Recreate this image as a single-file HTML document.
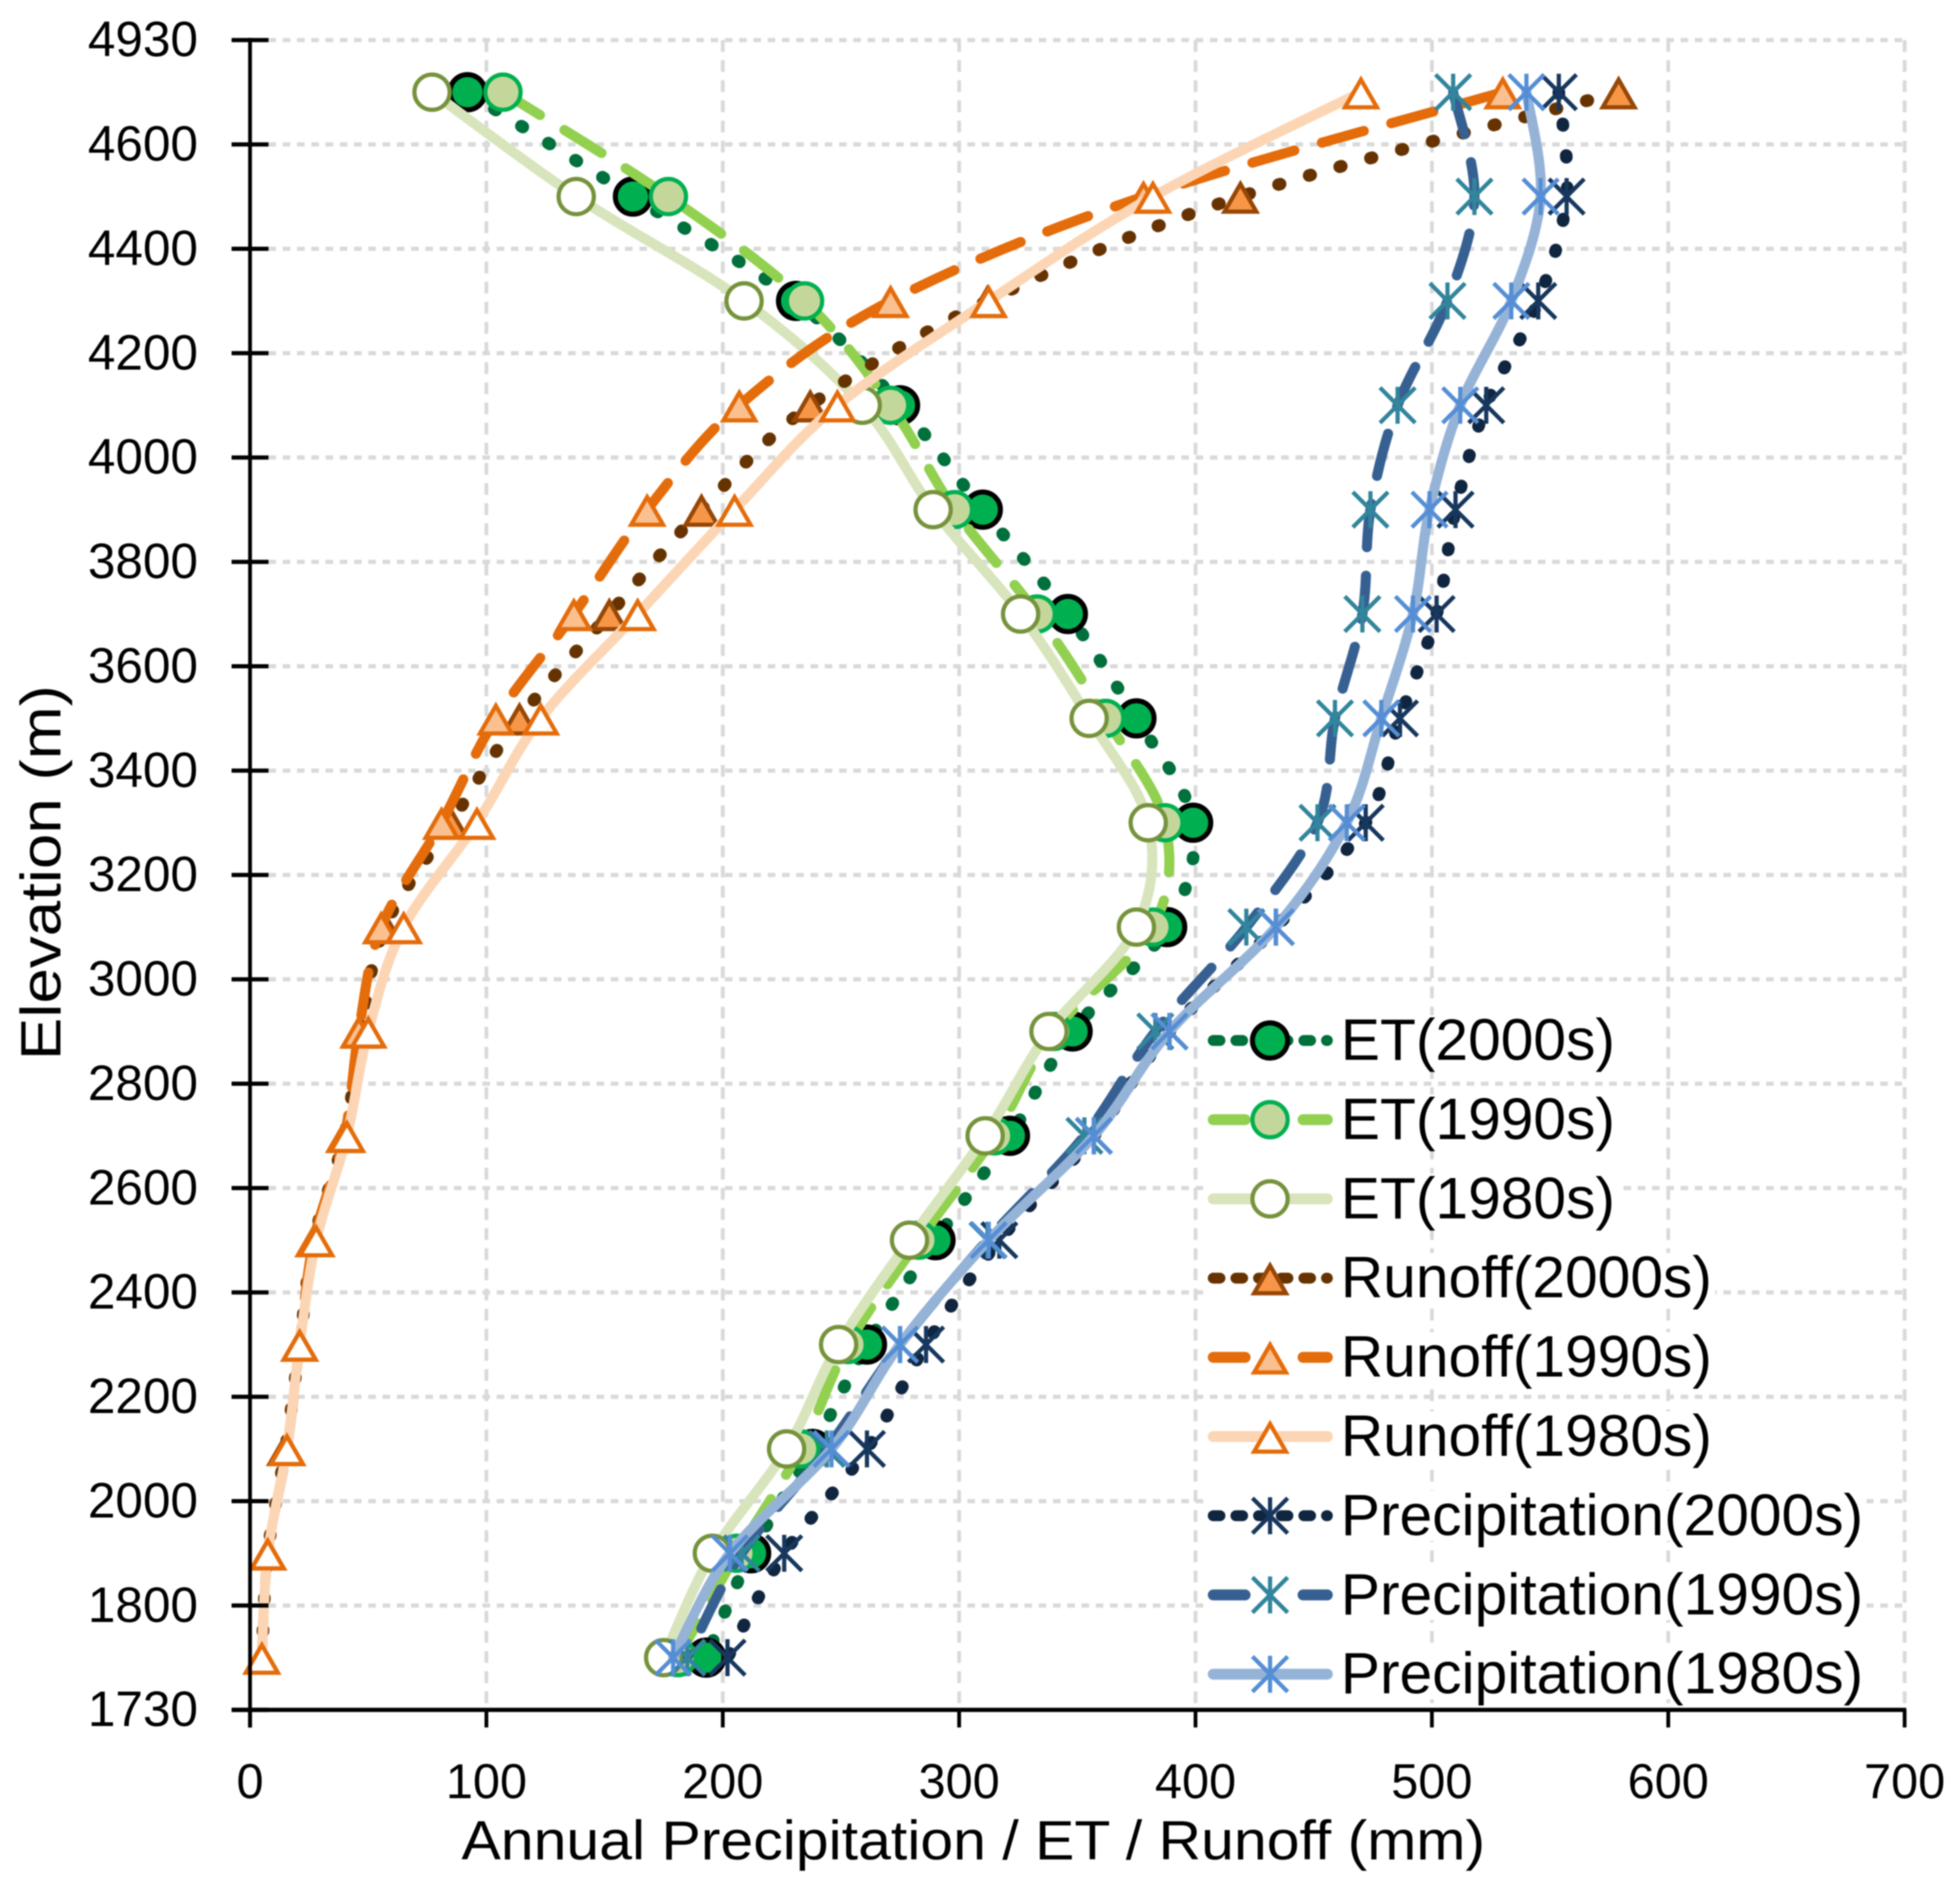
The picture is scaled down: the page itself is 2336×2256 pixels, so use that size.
<!DOCTYPE html>
<html lang="en">
<head>
<meta charset="utf-8">
<title>Annual Precipitation / ET / Runoff by Elevation</title>
<style>
  html, body { margin: 0; padding: 0; background: #ffffff; }
  svg { display: block; font-family: "Liberation Sans", Arial, sans-serif; filter: blur(0.7px); }
</style>
</head>
<body>
<svg id="chart" xmlns="http://www.w3.org/2000/svg" width="2336" height="2256" viewBox="0 0 2336 2256"></svg>
<script>
// ---- Chart data ----
const yTickLabels = ["4930","4600","4400","4200","4000","3800","3600","3400","3200","3000","2800","2600","2400","2200","2000","1800","1730"];
const xTickLabels = [0,100,200,300,400,500,600,700];
const et2000 = [92,162,231,275,310,346,375,399,388,348,321.5,290,261,238,212,193];
const et1990 = [107,177,234.6,271,298,333,362,387,382,340,315,283,253,233,206,181];
const et1980 = [77,138,209,259,289,326,355,380,375,338,311,279,249,227,195.6,175];
const runoff2000 = [579,419,312,237,191,152,114,85,57,47,40,27,21,15,7.5,5];
const runoff1990 = [530,378,271,207,168,137,104,81,55.5,46,40,27,21,15.6,7.5,5];
const runoff1980 = [470,382,312.5,248.5,205,164,123,96,65,50,41,28,21,15.6,7.5,5];
const precip2000 = [553.7,557,545,523,510,502,486.5,472,434,389,357,317,286,261,226,202];
const precip1990 = [509,518,506.6,485.5,474,470.6,459,451.6,421.5,383,353,312,275,244,208,185];
const precip1980 = [540,546,533.6,512,499,492,478.6,464,434,389,357,312.5,275,246,203,179];

// ---- Series appearance ----
const seriesList = [
  {label:"ET(2000s)", slug:"et-2000s", values:et2000, line:"#00703c", width:15, dash:"2 36", legendDash:"8 19", marker:"circle", fill:"#00B050", stroke:"#000000", sw:6},
  {label:"ET(1990s)", slug:"et-1990s", values:et1990, line:"#92D050", width:12, dash:"52 34", legendDash:"38 69", marker:"circle", fill:"#C4D79B", stroke:"#00B050", sw:5},
  {label:"ET(1980s)", slug:"et-1980s", values:et1980, line:"#D8E4BC", width:12, dash:"", legendDash:"", marker:"circle", fill:"#ffffff", stroke:"#76933C", sw:5},
  {label:"Runoff(2000s)", slug:"runoff-2000s", values:runoff2000, line:"#663300", width:15, dash:"2 36", legendDash:"8 19", marker:"triangle", fill:"#F79646", stroke:"#974706", sw:5},
  {label:"Runoff(1990s)", slug:"runoff-1990s", values:runoff1990, line:"#E46C0A", width:12, dash:"52 34", legendDash:"38 69", marker:"triangle", fill:"#FAC08F", stroke:"#E46C0A", sw:5},
  {label:"Runoff(1980s)", slug:"runoff-1980s", values:runoff1980, line:"#FCD5B5", width:12, dash:"", legendDash:"", marker:"triangle", fill:"#ffffff", stroke:"#E46C0A", sw:5},
  {label:"Precipitation(2000s)", slug:"precipitation-2000s", values:precip2000, line:"#10253F", width:15, dash:"2 36", legendDash:"8 19", marker:"star", fill:"none", stroke:"#17375E", sw:5},
  {label:"Precipitation(1990s)", slug:"precipitation-1990s", values:precip1990, line:"#376092", width:12, dash:"52 34", legendDash:"38 69", marker:"star", fill:"none", stroke:"#31859C", sw:5},
  {label:"Precipitation(1980s)", slug:"precipitation-1980s", values:precip1980, line:"#95B3D7", width:12, dash:"", legendDash:"", marker:"star", fill:"none", stroke:"#558ED5", sw:5}
];

// ---- Axis functions ----
const plot = {left:298, right:2270, top:47.7, bottom:2037.7};
const xMax = 700;
function xScale(v) { return plot.left + (v / xMax) * (plot.right - plot.left); }
function yTick(i) { return plot.top + i * (plot.bottom - plot.top) / (yTickLabels.length - 1); }
function yBand(i) { return yTick(i + 0.5); }

const NS = "http://www.w3.org/2000/svg";
const svg = document.getElementById("chart");
function mk(tag, attrs, parent) {
  const el = document.createElementNS(NS, tag);
  for (const k in attrs) el.setAttribute(k, attrs[k]);
  (parent || svg).appendChild(el);
  return el;
}
function smoothPath(pts) {
  let d = "M" + pts[0][0].toFixed(2) + " " + pts[0][1].toFixed(2);
  for (let i = 0; i < pts.length - 1; i++) {
    const p0 = pts[Math.max(i - 1, 0)], p1 = pts[i], p2 = pts[i + 1], p3 = pts[Math.min(i + 2, pts.length - 1)];
    const c1x = p1[0] + (p2[0] - p0[0]) / 6, c1y = p1[1] + (p2[1] - p0[1]) / 6;
    const c2x = p2[0] - (p3[0] - p1[0]) / 6, c2y = p2[1] - (p3[1] - p1[1]) / 6;
    d += "C" + c1x.toFixed(2) + " " + c1y.toFixed(2) + " " + c2x.toFixed(2) + " " + c2y.toFixed(2) + " " + p2[0].toFixed(2) + " " + p2[1].toFixed(2);
  }
  return d;
}
function drawMarker(s, cx, cy, parent) {
  let el;
  if (s.marker === "circle") {
    el = mk("circle", {cx:cx, cy:cy, r:21, fill:s.fill, stroke:s.stroke, "stroke-width":s.sw}, parent);
  } else if (s.marker === "triangle") {
    const pts = [[cx, cy - 15], [cx + 19, cy + 18], [cx - 19, cy + 18]].map(p => p.join(",")).join(" ");
    el = mk("polygon", {points:pts, fill:s.fill, stroke:s.stroke, "stroke-width":s.sw, "stroke-linejoin":"miter"}, parent);
  } else {
    const d = "M" + cx + " " + (cy - 22) + "V" + (cy + 22) +
      "M" + (cx - 21) + " " + (cy - 21) + "L" + (cx + 21) + " " + (cy + 21) +
      "M" + (cx + 21) + " " + (cy - 21) + "L" + (cx - 21) + " " + (cy + 21);
    el = mk("path", {d:d, fill:"none", stroke:s.stroke, "stroke-width":s.sw}, parent);
  }
  return el;
}

// ---- Gridlines ----
const gridGroup = mk("g", {});


yTickLabels.forEach(function (label, i) {
  if (i === yTickLabels.length - 1) return;
  const y = yTick(i);
  const g = mk("line", {x1:plot.left + 22, x2:plot.right, y1:y, y2:y, stroke:"#D9D9D9", "stroke-width":5, "stroke-dasharray":"9 8"}, gridGroup);
  
  
});
xTickLabels.forEach(function (v) {
  if (v === 0) return;
  const x = xScale(v);
  const g = mk("line", {x1:x, x2:x, y1:plot.top, y2:plot.bottom, stroke:"#D9D9D9", "stroke-width":4.5, "stroke-dasharray":"14 10"}, gridGroup);
  
  
});

// ---- Series ----
seriesList.forEach(function (s) {
  const group = mk("g", {});
  
  
  const pts = s.values.map(function (v, i) { return [xScale(v), yBand(i)]; });
  const line = mk("path", {d:smoothPath(pts), fill:"none", stroke:s.line, "stroke-width":s.width, "stroke-linecap":"round", "stroke-linejoin":"round"}, group);
  if (s.dash) line.setAttribute("stroke-dasharray", s.dash);
  
  
  pts.forEach(function (p) {
    const m = drawMarker(s, p[0], p[1], group);
    
    
  });
});

// ---- Axes ----
const axisGroup = mk("g", {});


const yAxisLine = mk("line", {x1:plot.left, x2:plot.left, y1:plot.top - 2.5, y2:plot.bottom + 21, stroke:"#000", "stroke-width":4.5}, axisGroup);


const xAxisLine = mk("line", {x1:276, x2:plot.right + 2, y1:plot.bottom, y2:plot.bottom, stroke:"#000", "stroke-width":5}, axisGroup);


yTickLabels.forEach(function (label, i) {
  const y = yTick(i);
  const tick = mk("line", {x1:276, x2:320, y1:y, y2:y, stroke:"#000", "stroke-width":5}, axisGroup);
  
  
  const t = mk("text", {x:236, y:y + 19.5, "text-anchor":"end", "font-size":59, fill:"#000"}, axisGroup);
  t.textContent = label;
  
  
});
xTickLabels.forEach(function (v) {
  const x = xScale(v);
  const tick = mk("line", {x1:x, x2:x, y1:plot.bottom, y2:plot.bottom + 21, stroke:"#000", "stroke-width":4.5}, axisGroup);
  
  
  const t = mk("text", {x:x, y:2143, "text-anchor":"middle", "font-size":58, fill:"#000"}, axisGroup);
  t.textContent = v;
  
  
});
const xTitle = mk("text", {x:1160, y:2216, "text-anchor":"middle", "font-size":66, fill:"#000", textLength:1220, lengthAdjust:"spacingAndGlyphs"});
xTitle.textContent = "Annual Precipitation / ET / Runoff (mm)";


const yTitle = mk("text", {x:0, y:0, transform:"translate(72 1040) rotate(-90)", "text-anchor":"middle", "font-size":68, fill:"#000", textLength:447, lengthAdjust:"spacingAndGlyphs"});
yTitle.textContent = "Elevation (m)";



// ---- Legend ----
const legend = mk("g", {});


seriesList.forEach(function (s, i) {
  const cy = 1240 + i * 94.4;
  const entry = mk("g", {}, legend);
  
  
  const bg = mk("rect", {x:1437, y:cy - 30, width:180, height:60, fill:"#ffffff"}, entry);
  
  
  const key = mk("line", {x1:1446, x2:1582, y1:cy, y2:cy, stroke:s.line, "stroke-width":13, "stroke-linecap":"round"}, entry);
  if (s.legendDash) key.setAttribute("stroke-dasharray", s.legendDash);
  
  
  const m = drawMarker(s, 1513.7, cy, entry);
  
  
  const t = mk("text", {x:1598, y:cy + 23, "font-size":70, fill:"#000"}, entry);
  t.textContent = s.label;
  
  
  bg.setAttribute("width", t.getComputedTextLength() + 1598 - 1437 + 4);
});
</script>
</body>
</html>
